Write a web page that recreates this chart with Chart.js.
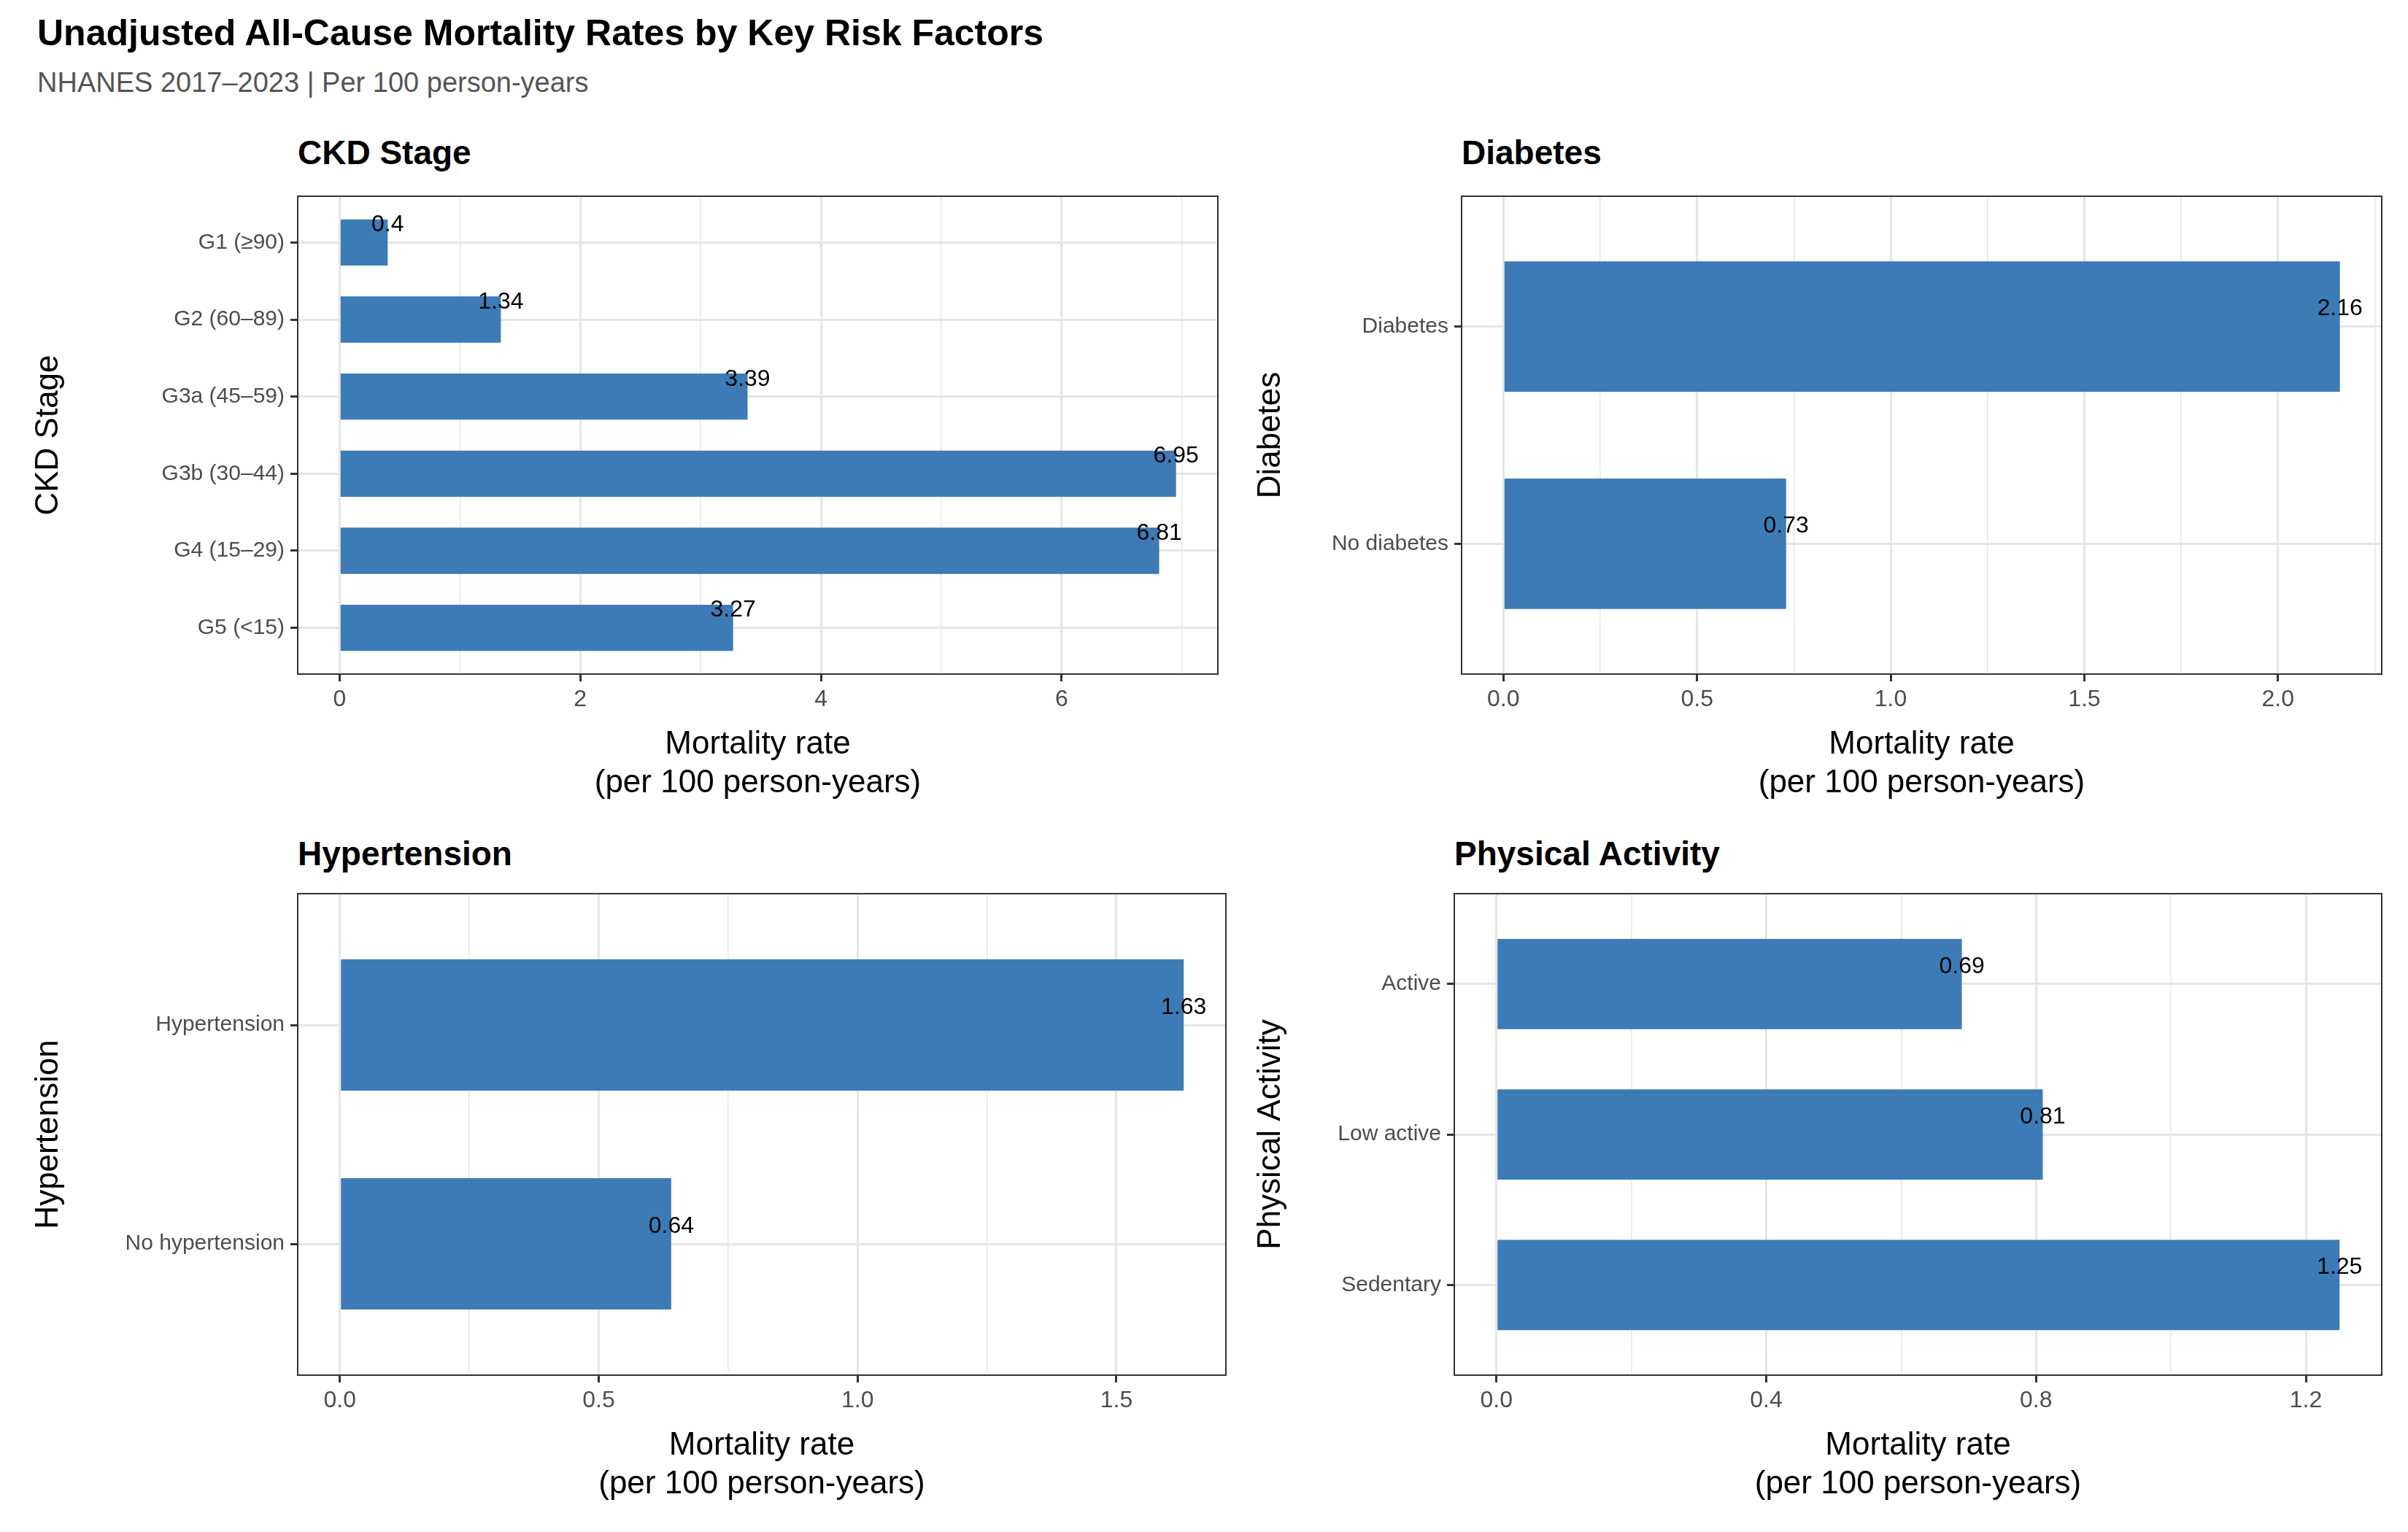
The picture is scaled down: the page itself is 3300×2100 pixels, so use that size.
<!DOCTYPE html>
<html>
<head>
<meta charset="utf-8">
<script src="https://cdn.jsdelivr.net/npm/chart.js@4.4.1/dist/chart.umd.min.js"></script>
<style>
  body { margin: 0; background: #fff; font-family: "Liberation Sans", Arial, sans-serif; }
  #wrap { position: relative; width: 3300px; height: 2100px; }
  canvas { position: absolute; }
  .t { position: absolute; white-space: nowrap; }
  .main { left: 51px; top: 16px; font-size: 50px; font-weight: bold; }
  .sub { left: 51px; top: 92px; font-size: 38px; color: #555; }
  .pt { font-size: 46px; font-weight: bold; }
</style>
</head>
<body>
<div id="wrap">
  <div class="t main">Unadjusted All-Cause Mortality Rates by Key Risk Factors</div>
  <div class="t sub">NHANES 2017–2023 | Per 100 person-years</div>
  <div class="t pt" style="left:408px;top:182px">CKD Stage</div>
  <div class="t pt" style="left:2003px;top:182px">Diabetes</div>
  <div class="t pt" style="left:408px;top:1143px">Hypertension</div>
  <div class="t pt" style="left:1993px;top:1143px">Physical Activity</div>
  <canvas id="c1"></canvas>
  <canvas id="c2"></canvas>
  <canvas id="c3"></canvas>
  <canvas id="c4"></canvas>
</div>
<script>
// ---- data ----
const ckdCats = ["G1 (≥90)", "G2 (60–89)", "G3a (45–59)", "G3b (30–44)", "G4 (15–29)", "G5 (<15)"];
const ckdVals = [0.4, 1.34, 3.39, 6.95, 6.81, 3.27];
const ckdTicks = [0, 2, 4, 6];

const diabCats = ["Diabetes", "No diabetes"];
const diabVals = [2.16, 0.73];
const diabTicks = [0, 0.5, 1.0, 1.5, 2.0];

const htnCats = ["Hypertension", "No hypertension"];
const htnVals = [1.63, 0.64];
const htnTicks = [0, 0.5, 1.0, 1.5];

const paCats = ["Active", "Low active", "Sedentary"];
const paVals = [0.69, 0.81, 1.25];
const paTicks = [0, 0.4, 0.8, 1.2];

const BAR = "#3d7bb6";
const GRID = "#e6e6e6";
const FONT = "'Liberation Sans', Arial, sans-serif";

// ---- plugins ----
const borderPlugin = {
  id: "border",
  afterDraw(chart) {
    const a = chart.chartArea, ctx = chart.ctx;
    ctx.save();
    ctx.strokeStyle = "#333";
    ctx.lineWidth = 2;
    ctx.strokeRect(a.left, a.top, a.right - a.left, a.bottom - a.top);
    ctx.restore();
  }
};

const labelPlugin = {
  id: "barLabels",
  afterDatasetsDraw(chart) {
    const ctx = chart.ctx;
    const meta = chart.getDatasetMeta(0);
    ctx.save();
    ctx.font = "32px " + FONT;
    ctx.fillStyle = "#000";
    ctx.textAlign = "center";
    ctx.textBaseline = "middle";
    meta.data.forEach((el, i) => {
      ctx.fillText(String(chart.data.datasets[0].data[i].x), el.x, el.y - 24);
    });
    ctx.restore();
  }
};

function makePanel(p) {
  const cv = document.getElementById(p.id);
  cv.width = p.width; cv.height = p.height;
  cv.style.left = p.left + "px"; cv.style.top = p.top + "px";

  const max = Math.max(...p.vals);
  const pad = max * 0.05;
  const step = p.ticks[1] - p.ticks[0];
  const allTicks = [{ value: p.ticks[0] - step / 2, major: false }];
  p.ticks.forEach(t => { allTicks.push({ value: t, major: true }); allTicks.push({ value: t + step / 2, major: false }); });
  const xTicks = allTicks.filter(t => t.value >= -pad && t.value <= max + pad);
  const n = p.cats.length;

  new Chart(cv, {
    type: "bar",
    data: {
      datasets: [{
        data: p.vals.map((v, i) => ({ x: v, y: i })),
        backgroundColor: BAR,
        barPercentage: 0.6,
        categoryPercentage: 1.0
      }]
    },
    options: {
      indexAxis: "y",
      responsive: false,
      animation: false,
      devicePixelRatio: 1,
      layout: { padding: { top: p.padTop, right: p.padRight, left: 0, bottom: 0 } },
      plugins: { legend: { display: false }, tooltip: { enabled: false } },
      scales: {
        x: {
          type: "linear",
          min: -pad, max: max + pad,
          afterBuildTicks: s => { s.ticks = xTicks.map(t => ({ value: t.value, major: t.major })); },
          afterFit: s => { s.height = 180; },
          ticks: {
            font: { size: 32, family: FONT },
            color: "#4d4d4d",
            padding: 6,
            callback: (v, i, ticks) => ticks[i].major ? p.fmt(v) : ""
          },
          grid: {
            color: GRID,
            lineWidth: c => (c.tick && c.tick.major) ? 3 : 1.5,
            tickColor: c => (c.tick && c.tick.major) ? "#333" : "rgba(0,0,0,0)",
            tickLength: 10
          },
          border: { display: false },
          title: {
            display: true,
            text: ["Mortality rate", "(per 100 person-years)"],
            font: { size: 44, family: FONT },
            color: "#000",
            padding: { top: 2 }
          }
        },
        y: {
          type: "linear",
          reverse: true,
          offset: false,
          min: -0.6, max: n - 1 + 0.6,
          afterBuildTicks: s => { s.ticks = p.cats.map((c, i) => ({ value: i })); },
          afterFit: s => { s.width = p.yWidth; },
          ticks: {
            font: { size: 30, family: FONT },
            color: "#4d4d4d",
            padding: 8,
            callback: v => p.cats[v]
          },
          grid: { offset: false, color: GRID, lineWidth: 3, tickColor: "#333", tickLength: 10 },
          border: { display: false },
          title: {
            display: true,
            text: p.yTitle,
            font: { size: 44, family: FONT },
            color: "#000",
            padding: { top: 0, bottom: 0 }
          }
        }
      }
    },
    plugins: [{ id: "tpad", beforeInit: () => {} }, borderPlugin, labelPlugin]
  });
}

const f0 = v => String(Math.round(v));
const f1 = v => v.toFixed(1);

makePanel({ id: "c1", left: 40, top: 180, width: 1660, height: 924, padTop: 89, padRight: 31, yWidth: 368,
  cats: ckdCats, vals: ckdVals, ticks: ckdTicks, yTitle: "CKD Stage", fmt: f0 });
makePanel({ id: "c2", left: 1715, top: 180, width: 1585, height: 924, padTop: 89, padRight: 36, yWidth: 288,
  cats: diabCats, vals: diabVals, ticks: diabTicks, yTitle: "Diabetes", fmt: f1 });
makePanel({ id: "c3", left: 40, top: 1140, width: 1660, height: 925, padTop: 85, padRight: 20, yWidth: 368,
  cats: htnCats, vals: htnVals, ticks: htnTicks, yTitle: "Hypertension", fmt: f1 });
makePanel({ id: "c4", left: 1715, top: 1140, width: 1585, height: 925, padTop: 85, padRight: 36, yWidth: 278,
  cats: paCats, vals: paVals, ticks: paTicks, yTitle: "Physical Activity", fmt: f1 });
</script>
</body>
</html>
